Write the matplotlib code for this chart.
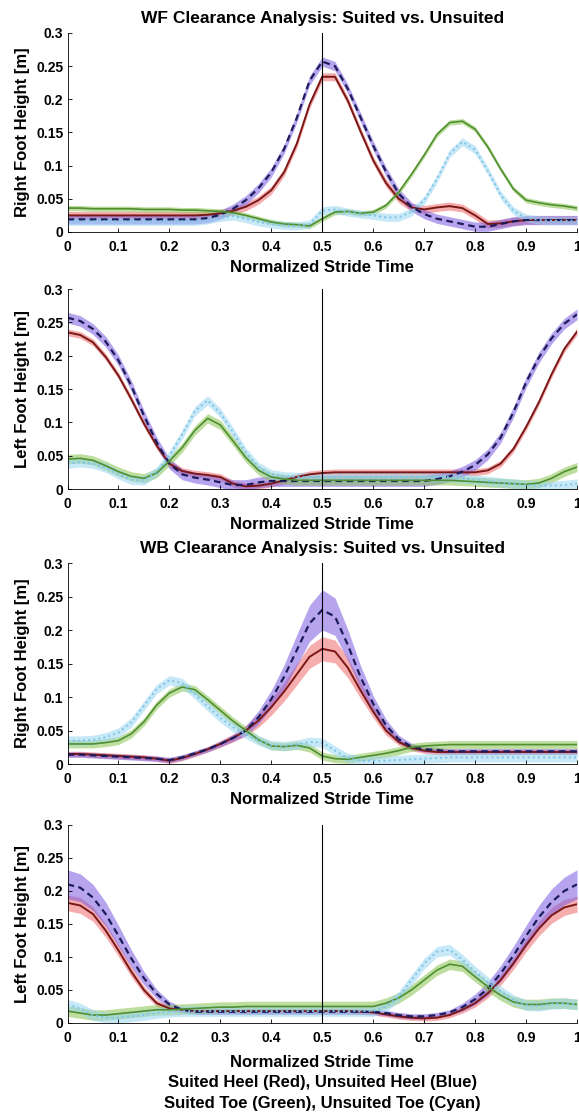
import numpy as np
import matplotlib
matplotlib.use('Agg')
import matplotlib.pyplot as plt

plt.rcParams['font.family'] = ['Liberation Sans', 'DejaVu Sans']
plt.rcParams['font.weight'] = 'bold'
plt.rcParams['axes.labelweight'] = 'bold'
plt.rcParams['axes.titleweight'] = 'bold'

# normalized stride time, sampled every 2.5 %
t = np.linspace(0, 1, 41)

# WF, right foot: mean heights [m]
wf_right_red = [0.025] * 11 + [0.026, 0.028, 0.032, 0.038, 0.048, 0.063, 0.090, 0.133, 0.192, 0.234,
                               0.234, 0.198, 0.152, 0.108, 0.074, 0.050, 0.037, 0.034, 0.037, 0.039,
                               0.036, 0.025, 0.012, 0.013, 0.016, 0.018, 0.018, 0.018, 0.018, 0.018]
wf_right_blue = [0.019] * 11 + [0.021, 0.026, 0.035, 0.048, 0.066, 0.090, 0.125, 0.172, 0.228, 0.257,
                                0.250, 0.216, 0.173, 0.130, 0.091, 0.058, 0.038, 0.027, 0.020, 0.016,
                                0.012, 0.008, 0.008, 0.012, 0.016, 0.018, 0.018, 0.018, 0.018, 0.018]
wf_right_green = [0.036, 0.036, 0.035, 0.035, 0.035, 0.035, 0.034, 0.034, 0.034, 0.033, 0.033,
                  0.032, 0.031, 0.029, 0.025, 0.020, 0.015, 0.012, 0.011, 0.009, 0.020,
                  0.030, 0.031, 0.028, 0.030, 0.040, 0.060, 0.087, 0.116, 0.147, 0.165,
                  0.167, 0.155, 0.128, 0.095, 0.065, 0.048, 0.044, 0.041, 0.039, 0.036]
wf_right_cyan = [0.016] * 11 + [0.018, 0.022, 0.024, 0.020, 0.015, 0.012, 0.010, 0.009, 0.012, 0.032,
                                0.034, 0.030, 0.027, 0.025, 0.022, 0.022, 0.030, 0.048, 0.080, 0.118,
                                0.136, 0.124, 0.092, 0.056, 0.032, 0.021, 0.018, 0.017, 0.017, 0.017]

# WF, left foot
wf_left_red = [0.235, 0.231, 0.220, 0.198, 0.170, 0.135, 0.098, 0.065, 0.038, 0.027, 0.023,
               0.021, 0.018, 0.008, 0.004, 0.005, 0.008, 0.013, 0.018, 0.022, 0.024] + [0.025] * 12 + \
              [0.028, 0.038, 0.060, 0.093, 0.130, 0.172, 0.210, 0.236]
wf_left_blue = [0.257, 0.252, 0.240, 0.221, 0.193, 0.155, 0.110, 0.070, 0.038, 0.022, 0.017,
                0.014, 0.010, 0.006, 0.006, 0.010, 0.012, 0.012, 0.012, 0.012, 0.012] + [0.012] * 8 + \
               [0.015, 0.019, 0.026, 0.036, 0.052, 0.077, 0.115, 0.160, 0.197, 0.226, 0.248, 0.262]
wf_left_green = [0.045, 0.046, 0.043, 0.035, 0.026, 0.019, 0.016, 0.024, 0.042, 0.062, 0.088,
                 0.106, 0.096, 0.072, 0.047, 0.028, 0.018, 0.015] + [0.013] * 13 + \
                [0.012, 0.011, 0.010, 0.009, 0.008, 0.007, 0.009, 0.016, 0.026, 0.033]
wf_left_cyan = [0.038, 0.040, 0.038, 0.032, 0.022, 0.014, 0.013, 0.026, 0.050, 0.082, 0.117,
                0.133, 0.114, 0.085, 0.055, 0.033, 0.022, 0.019] + [0.018] * 13 + \
               [0.016, 0.014, 0.012, 0.010, 0.008, 0.006, 0.005, 0.005, 0.006, 0.008]

# WB, right foot
wb_right_red = [0.015, 0.015, 0.014, 0.013, 0.012, 0.011, 0.010, 0.008, 0.005, 0.009, 0.015,
                0.022, 0.030, 0.039, 0.050, 0.065, 0.085, 0.108, 0.134, 0.160, 0.172,
                0.168, 0.144, 0.110, 0.078, 0.050, 0.033, 0.024, 0.020] + [0.018] * 12
wb_right_blue = [0.014, 0.014, 0.013, 0.012, 0.011, 0.010, 0.009, 0.008, 0.006, 0.010, 0.016,
                 0.022, 0.030, 0.039, 0.050, 0.070, 0.097, 0.130, 0.170, 0.210, 0.230,
                 0.220, 0.178, 0.130, 0.090, 0.058, 0.037, 0.026, 0.022, 0.021] + [0.019] * 11
wb_right_green = [0.030, 0.030, 0.030, 0.032, 0.035, 0.045, 0.063, 0.088, 0.106, 0.115, 0.111,
                  0.096, 0.080, 0.064, 0.050, 0.036, 0.027, 0.026, 0.028, 0.024, 0.012,
                  0.008, 0.007, 0.010, 0.013, 0.016, 0.020, 0.025, 0.027, 0.028] + [0.029] * 11
wb_right_cyan = [0.035, 0.035, 0.036, 0.040, 0.047, 0.062, 0.087, 0.112, 0.125, 0.121, 0.104,
                 0.086, 0.069, 0.055, 0.045, 0.035, 0.028, 0.027, 0.029, 0.033, 0.032,
                 0.020, 0.009, 0.005, 0.005, 0.005, 0.006, 0.007, 0.008, 0.009] + [0.010] * 11

# WB, left foot
wb_left_red = [0.182, 0.178, 0.165, 0.140, 0.110, 0.078, 0.050, 0.030, 0.022, 0.020] + [0.018] * 13 + \
              [0.017, 0.016, 0.013, 0.010, 0.008, 0.007, 0.008, 0.012, 0.020, 0.030, 0.045,
               0.065, 0.090, 0.118, 0.143, 0.163, 0.175, 0.180]
wb_left_blue = [0.210, 0.205, 0.190, 0.165, 0.132, 0.098, 0.068, 0.044, 0.028, 0.020] + [0.017] * 15 + \
               [0.015, 0.012, 0.010, 0.010, 0.012, 0.016, 0.024, 0.036, 0.052, 0.075, 0.102,
                0.132, 0.160, 0.183, 0.200, 0.210]
wb_left_green = [0.018, 0.015, 0.012, 0.012, 0.014, 0.016, 0.018, 0.020, 0.020, 0.021, 0.022,
                 0.023, 0.024, 0.024, 0.025] + [0.025] * 10 + \
                [0.030, 0.038, 0.050, 0.065, 0.080, 0.089, 0.086, 0.070, 0.055, 0.042, 0.032,
                 0.028, 0.028, 0.030, 0.030, 0.028]
wb_left_cyan = [0.028, 0.022, 0.012, 0.008, 0.008, 0.010, 0.012, 0.015, 0.017, 0.018] + [0.018] * 15 + \
               [0.025, 0.040, 0.065, 0.090, 0.108, 0.111, 0.096, 0.078, 0.062, 0.048, 0.035,
                0.027, 0.026, 0.029, 0.030, 0.028]

# standard deviations [m]; heel bands in WB widen around the swing peak
wb_right_red_sd = [0.004] * 12 + [0.005, 0.006, 0.008, 0.010, 0.012, 0.014, 0.016, 0.017, 0.018,
                                  0.017, 0.015, 0.012, 0.009, 0.007, 0.005] + [0.004] * 14
wb_right_blue_sd = [0.004] * 13 + [0.005, 0.007, 0.010, 0.013, 0.018, 0.023, 0.027, 0.030,
                                   0.028, 0.023, 0.017, 0.012, 0.009, 0.006, 0.005] + [0.004] * 13
wb_left_red_sd = [0.012, 0.012, 0.011, 0.010, 0.009, 0.008, 0.006, 0.005] + [0.004] * 23 + \
                 [0.005, 0.006, 0.007, 0.008, 0.009, 0.010, 0.011, 0.012, 0.012, 0.012]
wb_left_blue_sd = [0.022, 0.021, 0.020, 0.018, 0.016, 0.013, 0.010, 0.007, 0.005] + [0.004] * 22 + \
                  [0.006, 0.008, 0.010, 0.012, 0.014, 0.016, 0.018, 0.020, 0.021, 0.022]

panels = [
    ('Right Foot Height [m]', 'WF Clearance Analysis: Suited vs. Unsuited',
     [wf_right_red, wf_right_blue, wf_right_green, wf_right_cyan],
     [0.006, 0.007, 0.004, 0.006]),
    ('Left Foot Height [m]', None,
     [wf_left_red, wf_left_blue, wf_left_green, wf_left_cyan],
     [0.005, 0.008, 0.007, 0.007]),
    ('Right Foot Height [m]', 'WB Clearance Analysis: Suited vs. Unsuited',
     [wb_right_red, wb_right_blue, wb_right_green, wb_right_cyan],
     [wb_right_red_sd, wb_right_blue_sd, 0.006, 0.007]),
    ('Left Foot Height [m]', None,
     [wb_left_red, wb_left_blue, wb_left_green, wb_left_cyan],
     [wb_left_red_sd, wb_left_blue_sd, 0.008, 0.008]),
]

# red = suited heel, blue = unsuited heel, green = suited toe, cyan = unsuited toe
band_colors = ['#ee6a6a', '#7a5ce0', '#8ac453', '#9ad6f2']
line_colors = ['#7a1818', '#1c1c5a', '#4f8f2f', '#7cc4e8']
line_styles = ['-', (0, (3, 2)), '-', ':']
line_widths = [1.4, 1.6, 1.2, 1.4]

fig = plt.figure(figsize=(5.79, 11.18), dpi=100)
boxes = [(0.7925, 0.178), (0.5626, 0.1789), (0.3166, 0.1798), (0.0850, 0.1771)]

for i, ((ylabel, title, means, sds), (bottom, height)) in enumerate(zip(panels, boxes)):
    ax = fig.add_axes([0.1166, bottom, 0.880, height])
    for m, sd, bc, lc, ls, lw in zip(means, sds, band_colors, line_colors, line_styles, line_widths):
        m = np.asarray(m)
        sd = np.asarray(sd)
        ax.fill_between(t, m - sd, m + sd, color=bc, alpha=0.55, lw=0)
        ax.plot(t, m, color=lc, ls=ls, lw=lw)
    ax.axvline(0.5, color='black', lw=0.8)
    ax.set_xlim(0, 1)
    ax.set_ylim(0, 0.3)
    ax.set_xticks(np.arange(0, 1.01, 0.1))
    ax.set_xticklabels(['0', '0.1', '0.2', '0.3', '0.4', '0.5', '0.6', '0.7', '0.8', '0.9', '1'])
    ax.set_yticks(np.arange(0, 0.301, 0.05))
    ax.set_yticklabels(['0', '0.05', '0.1', '0.15', '0.2', '0.25', '0.3'])
    ax.tick_params(direction='in', length=3, width=0.6, labelsize=10, pad=3)
    ax.tick_params(axis='x', pad=6)
    for side in ('top', 'right'):
        ax.spines[side].set_visible(False)
    for side in ('left', 'bottom'):
        ax.spines[side].set_linewidth(0.6)
    ax.set_ylabel(ylabel, fontsize=12, va='center')
    ax.yaxis.set_label_coords(-0.089, 0.5)
    if title:
        ax.set_title(title, fontsize=12.5, pad=7)
    if i == 3:
        ax.set_xlabel('Normalized Stride Time\nSuited Heel (Red), Unsuited Heel (Blue)\n'
                      'Suited Toe (Green), Unsuited Toe (Cyan)', fontsize=12, labelpad=7,
                      linespacing=1.45)
    else:
        ax.set_xlabel('Normalized Stride Time', fontsize=12, labelpad=4)

fig.savefig('out.png', dpi=100)
